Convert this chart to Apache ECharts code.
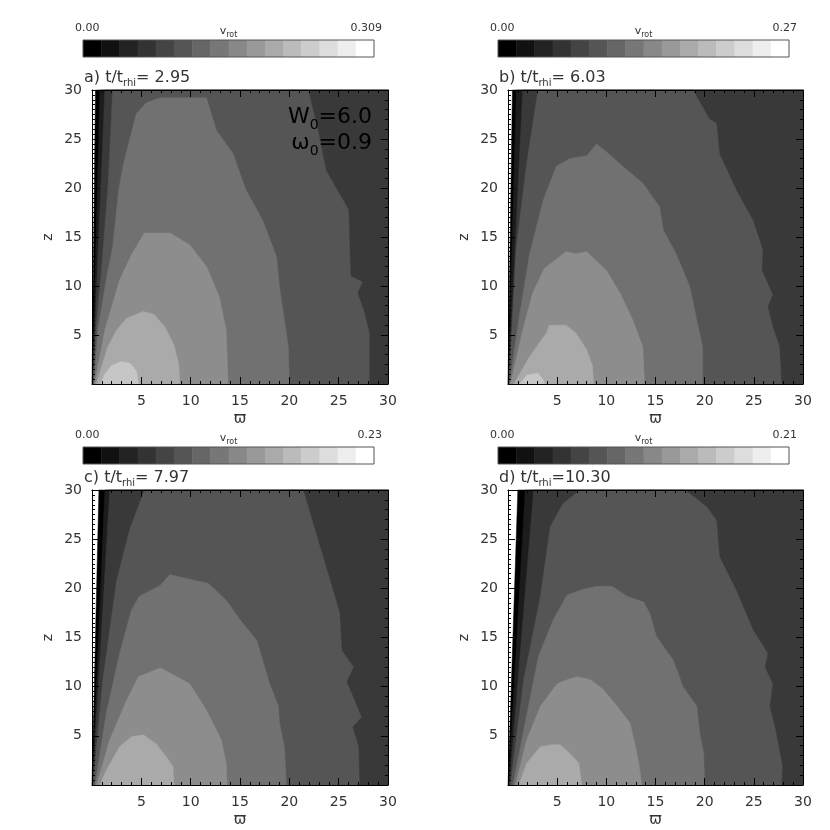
<!DOCTYPE html>
<html>
<head>
<meta charset="utf-8">
<script src="https://cdn.jsdelivr.net/npm/echarts@6/dist/echarts.min.js"></script>
<style>
html, body { margin: 0; padding: 0; background: #fff; }
#main { width: 830px; height: 830px; }
</style>
</head>
<body>
<div id="main"></div>
<script>
// grey of each filled band, outermost (lowest v_rot) first
const levelGrays = ['#000000', '#1c1c1c', '#393939', '#555555', '#717171', '#8d8d8d', '#aaaaaa', '#c6c6c6'];
// the 16 cells of the colour bar
const colorbarGrays = ['#000000', '#111111', '#222222', '#333333', '#444444', '#555555', '#666666', '#777777',
                       '#888888', '#999999', '#aaaaaa', '#bbbbbb', '#cccccc', '#dddddd', '#eeeeee', '#ffffff'];
const panelLetters = ['a)', 'b)', 'c)', 'd)'];
const panelTimes = [' 2.95', ' 6.03', ' 7.97', '10.30'];
const vrotMax = ['0.309', '0.27', '0.23', '0.21'];

// contour bands: [varpi, z] boundary of the region above each level (closed along z = 0)
const contoursA = [
    [[0, 0], [0.35, 30], [30, 30], [30, 0]],
    [[0.03, 0], [0.8, 30], [30, 30], [30, 0]],
    [[0.06, 0], [1.3, 30], [30, 30], [30, 0]],
    [[0.12, 0], [0.4, 5.5], [0.9, 11], [1.6, 19.8], [2.1, 30], [21.9, 30], [22.9, 25.9], [23.7, 21.8], [24.9, 19.7],
     [26.0, 17.8], [26.1, 14.0], [26.2, 11.0], [27.4, 10.4], [26.9, 9.3], [27.6, 7.3], [28.1, 5.2], [28.1, 0]],
    [[0.2, 0], [0.6, 5.5], [1.5, 11], [2.1, 14], [2.7, 19.8], [3.2, 22.5], [4.5, 27.6], [5.5, 28.7], [6.9, 29.2],
     [11.6, 29.2], [12.6, 25.9], [14.3, 23.5], [15.6, 19.8], [17.3, 16.7], [18.7, 13.0], [19.0, 9.9], [19.4, 7.2],
     [19.9, 3.8], [20.0, 0]],
    [[0.25, 0], [1.3, 5.5], [2.8, 10.6], [4.0, 13.2], [5.3, 15.4], [7.9, 15.4], [9.9, 14.2], [11.6, 12.0],
     [12.9, 8.9], [13.6, 5.5], [13.8, 0]],
    [[0.45, 0], [0.9, 1.5], [1.6, 3.8], [2.5, 5.5], [3.5, 6.7], [5.2, 7.4], [6.3, 7.1], [7.4, 5.8], [8.3, 4.0],
     [8.8, 2.0], [8.9, 0]],
    [[0.85, 0], [1.3, 1.0], [2.0, 1.9], [3.0, 2.3], [3.9, 2.1], [4.5, 1.3], [4.7, 0]]
];
const contoursB = [
    [[0, 0], [0.45, 30], [30, 30], [30, 0]],
    [[0.02, 0], [0.85, 30], [30, 30], [30, 0]],
    [[0.05, 0], [1.5, 30], [30, 30], [30, 0]],
    [[0.1, 0], [0.85, 14], [1.9, 22.5], [3.05, 30], [18.8, 30], [20.5, 27.0], [21.2, 26.6], [21.5, 23.5],
     [23.2, 19.8], [24.9, 16.7], [25.9, 13.7], [25.8, 11.6], [26.9, 9.1], [26.4, 7.9], [26.9, 5.9], [27.6, 3.8],
     [27.8, 0]],
    [[0.15, 0], [1.2, 7.2], [2.2, 13.3], [3.6, 18.8], [4.9, 22.2], [6.3, 23.0], [8.0, 23.3], [9.0, 24.5],
     [10.0, 23.7], [11.7, 22.2], [13.7, 20.5], [15.4, 18.1], [15.8, 15.7], [17.1, 13.3], [18.5, 9.9], [19.2, 6.5],
     [19.8, 3.8], [19.8, 0]],
    [[0.25, 0], [1.5, 5.5], [2.5, 9.25], [3.7, 11.8], [4.6, 12.5], [5.9, 13.5], [6.9, 13.3], [8.0, 13.5],
     [10.0, 11.6], [11.4, 9.25], [12.7, 6.5], [13.7, 3.8], [13.9, 0]],
    [[0.6, 0], [2.2, 2.8], [3.9, 5.2], [4.2, 6.0], [5.9, 6.0], [6.9, 5.2], [8.0, 3.5], [8.6, 1.8], [8.7, 0]],
    [[1.2, 0], [1.9, 0.9], [3.05, 1.1], [3.6, 0.4], [3.7, 0]]
];
const contoursC = [
    [[0, 0], [0.7, 30], [30, 30], [30, 0]],
    [[0.02, 0], [1.3, 30], [30, 30], [30, 0]],
    [[0.05, 0], [1.8, 30], [30, 30], [30, 0]],
    [[0.1, 0], [1.1, 10.7], [2.5, 20.8], [3.8, 25.9], [5.2, 29.7], [5.5, 30], [21.4, 30], [22.4, 26.6],
     [23.8, 21.9], [25.1, 17.5], [25.3, 13.7], [26.5, 12.0], [25.8, 10.5], [26.6, 8.6], [27.3, 6.9], [26.4, 5.9],
     [27.0, 3.9], [27.1, 0]],
    [[0.3, 0], [1.45, 7.3], [2.8, 13.4], [4.0, 17.8], [4.8, 19.2], [6.9, 20.3], [7.9, 21.4], [9.6, 21.0],
     [11.8, 20.5], [13.6, 18.8], [15.0, 16.8], [16.7, 14.7], [18.0, 10.3], [18.9, 8.0], [19.0, 6.3], [19.5, 3.9],
     [19.7, 0]],
    [[0.45, 0], [1.8, 4.6], [3.5, 8.6], [4.7, 11.0], [6.9, 11.9], [7.9, 11.4], [9.9, 10.3], [11.6, 7.6],
     [13.1, 4.6], [13.6, 2.2], [13.7, 0]],
    [[0.8, 0], [1.45, 1.5], [2.8, 3.9], [4.0, 4.9], [5.2, 5.1], [6.5, 4.2], [7.5, 2.9], [8.2, 1.9], [8.3, 0]]
];
const contoursD = [
    [[0, 0], [1.0, 30], [30, 30], [30, 0]],
    [[0.05, 0], [1.75, 30], [30, 30], [30, 0]],
    [[0.15, 0], [2.6, 30], [30, 30], [30, 0]],
    [[0.25, 0], [1.6, 10.7], [3.3, 19.2], [4.3, 26.3], [5.6, 28.6], [7.3, 30], [18.0, 30], [20.2, 28.3],
     [21.2, 26.9], [21.5, 23.2], [23.2, 19.8], [24.9, 15.8], [26.4, 13.4], [26.1, 12.0], [26.9, 10.3], [26.6, 8.0],
     [27.2, 5.6], [27.9, 1.9], [27.8, 0]],
    [[0.5, 0], [1.6, 5.6], [3.1, 13.1], [4.6, 16.8], [6.0, 19.3], [7.3, 19.8], [9.0, 20.2], [10.6, 20.2],
     [12.1, 19.2], [13.8, 18.6], [14.4, 17.5], [15.1, 15.1], [16.8, 12.7], [17.8, 10.0], [19.2, 8.0], [19.5, 5.3],
     [19.9, 3.2], [20.0, 0]],
    [[0.75, 0], [1.9, 4.6], [3.3, 8.0], [5.0, 10.3], [6.0, 10.7], [7.0, 11.0], [8.4, 10.7], [9.7, 9.7],
     [11.1, 8.0], [12.4, 6.3], [12.9, 4.2], [13.3, 2.2], [13.6, 0]],
    [[1.1, 0], [1.9, 2.2], [3.3, 3.9], [4.5, 4.1], [5.3, 4.1], [6.3, 3.2], [7.2, 2.2], [7.5, 0]]
];
const panelContours = [contoursA, contoursB, contoursC, contoursD];

// layout (pixels)
const plotLeft = [92, 508, 92, 508];
const plotTop = [90, 90, 490, 490];
const plotW = [296, 295, 296, 295];
const plotH = [294, 294, 295, 295];
const cbarLeft = [83, 498, 83, 498];
const cbarTop = [40, 40, 447, 447];
const cbarW = 291, cbarH = 17;

const FONT = 'DejaVu Sans';
const labelColor = '#333';

let chart = echarts.init(document.getElementById('main'));

let grids = [], xAxes = [], yAxes = [], series = [], texts = [];

function plotAxis(pos, gridIndex, showLabel, name, minorSplit) {
    let isX = pos === 'bottom' || pos === 'top';
    return {
        type: 'value', gridIndex: gridIndex, position: pos,
        min: 0, max: 30, interval: 5, z: 10,
        name: showLabel ? name : '',
        nameLocation: 'middle',
        nameGap: isX ? 28 : 37,
        nameTextStyle: { fontFamily: FONT, fontSize: isX ? 15 : 14, color: labelColor },
        axisLine: { show: true, onZero: false, lineStyle: { color: '#000', width: 1 } },
        axisTick: { show: true, inside: true, length: 7, lineStyle: { color: '#000' } },
        minorTick: { show: true, splitNumber: minorSplit, length: 3, lineStyle: { color: '#000' } },
        splitLine: { show: false },
        axisLabel: {
            show: showLabel, margin: 10, fontFamily: FONT, fontSize: 14, color: labelColor,
            formatter: v => v === 0 ? '' : String(v)
        }
    };
}

for (let i = 0; i < 4; i++) {
    grids.push({ left: plotLeft[i], top: plotTop[i], width: plotW[i], height: plotH[i], containLabel: false });
    xAxes.push(plotAxis('bottom', i, true, 'ϖ', 5));
    xAxes.push(plotAxis('top', i, false, '', 5));
    yAxes.push(plotAxis('left', i, true, 'z', 10));
    yAxes.push(plotAxis('right', i, false, '', 5));

    let levels = panelContours[i];
    series.push({
        type: 'custom',
        xAxisIndex: 2 * i, yAxisIndex: 2 * i,
        silent: true,
        data: levels.map((c, k) => [k, 0]),
        renderItem: function (params, api) {
            let k = api.value(0);
            let pts = levels[k].map(p => api.coord(p));
            return { type: 'polygon', shape: { points: pts }, style: { fill: levelGrays[k], stroke: levelGrays[k], lineWidth: 0.5 } };
        }
    });
}

for (let i = 0; i < 4; i++) {
    grids.push({
        left: cbarLeft[i], top: cbarTop[i], width: cbarW, height: cbarH,
        show: true, z: 10, backgroundColor: 'transparent', borderColor: '#555', borderWidth: 1
    });
    xAxes.push({ type: 'value', gridIndex: 4 + i, min: 0, max: colorbarGrays.length, show: false });
    yAxes.push({ type: 'value', gridIndex: 4 + i, min: 0, max: 1, show: false });
    series.push({
        type: 'custom',
        xAxisIndex: 8 + i, yAxisIndex: 8 + i,
        silent: true,
        data: colorbarGrays.map((g, k) => [k, 0]),
        renderItem: function (params, api) {
            let k = api.value(0);
            let p0 = api.coord([k, 0]);
            let p1 = api.coord([k + 1, 1]);
            return {
                type: 'rect',
                shape: { x: p0[0], y: p1[1], width: p1[0] - p0[0] + 0.5, height: p0[1] - p1[1] },
                style: { fill: colorbarGrays[k] }
            };
        }
    });

    let ly = cbarTop[i] - 12;
    texts.push({
        type: 'text', x: cbarLeft[i] - 8, y: ly,
        style: { text: '0.00', fontFamily: FONT, fontSize: 11, fill: labelColor, textAlign: 'left', textVerticalAlign: 'middle' }
    });
    texts.push({
        type: 'text', x: cbarLeft[i] + cbarW + 8, y: ly,
        style: { text: vrotMax[i], fontFamily: FONT, fontSize: 11, fill: labelColor, textAlign: 'right', textVerticalAlign: 'middle' }
    });
    texts.push({
        type: 'text', x: cbarLeft[i] + cbarW / 2, y: cbarTop[i] - 8,
        style: {
            text: '{n|v}{s|rot}', textAlign: 'center', textVerticalAlign: 'middle',
            rich: {
                n: { fontFamily: FONT, fontSize: 11, fill: labelColor, lineHeight: 12, verticalAlign: 'top' },
                s: { fontFamily: FONT, fontSize: 8, fill: labelColor, lineHeight: 13, verticalAlign: 'bottom' }
            }
        }
    });
    texts.push({
        type: 'text', x: cbarLeft[i] + 1, y: plotTop[i] - 11,
        style: {
            text: '{n|' + panelLetters[i] + ' t/t}{s|rhi}{n|=' + panelTimes[i] + '}',
            textAlign: 'left', textVerticalAlign: 'middle',
            rich: {
                n: { fontFamily: FONT, fontSize: 16, fill: labelColor, lineHeight: 17, verticalAlign: 'top' },
                s: { fontFamily: FONT, fontSize: 10, fill: labelColor, lineHeight: 18, verticalAlign: 'bottom' }
            }
        }
    });
}

// model parameters written inside panel a
texts.push({
    type: 'text', x: 372, y: 132, z: 20,
    style: {
        text: '{n|W}{s|0}{n|=6.0}\n{n|ω}{s|0}{n|=0.9}',
        textAlign: 'right', textVerticalAlign: 'middle',
        rich: {
            n: { fontFamily: FONT, fontSize: 22, fill: '#000', lineHeight: 22, verticalAlign: 'top' },
            s: { fontFamily: FONT, fontSize: 14, fill: '#000', lineHeight: 26, verticalAlign: 'bottom' }
        }
    }
});

chart.setOption({
    backgroundColor: '#fff',
    animation: false,
    grid: grids,
    xAxis: xAxes,
    yAxis: yAxes,
    series: series,
    graphic: texts
});
window.addEventListener('resize', function () {
    chart.resize();
});
</script>
</body>
</html>
